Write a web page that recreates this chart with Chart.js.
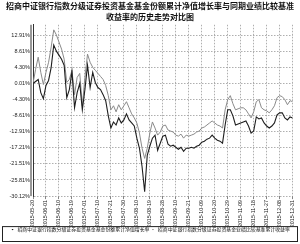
<!DOCTYPE html>
<html>
<head>
<meta charset="utf-8">
<script src="https://cdn.jsdelivr.net/npm/chart.js@4.4.1/dist/chart.umd.min.js"></script>
<style>
  html, body { margin: 0; padding: 0; background: #fff; }
  #wrap { width: 300px; height: 244px; }
</style>
</head>
<body>
<div id="wrap"><canvas id="navChart"></canvas></div>
<script>
// tick labels on the x axis (one every 5 points)
const xTickLabels = [
  "2015-05-20", "2015-06-01", "2015-06-10", "2015-06-19", "2015-07-01",
  "2015-07-10", "2015-07-21", "2015-07-30", "2015-08-10", "2015-08-19",
  "2015-08-28", "2015-09-10", "2015-09-21", "2015-10-09", "2015-10-20",
  "2015-10-29", "2015-11-09", "2015-11-18", "2015-11-27", "2015-12-08",
  "2015-12-31"
];
const yTickValues = [-30.12, -25.81, -21.51, -17.21, -12.91, -8.61, -4.30, 0.01, 4.30, 8.61, 12.91];

// 基金份额累计净值增长率 (%)
const fundReturn = [
  0.00, 0.54, 1.08, -2.44, -4.06, -0.54, 0.81, 4.33, 10.29, 8.66,
  7.58, 6.50, 4.87, -3.79, -1.62, 3.25, -6.50, -2.44, 0.00, -7.04,
  -1.62, 4.87, -1.08, 2.98, 0.27, -1.08, -1.62, -2.98, -4.60, -8.66,
  -11.91, -10.29, -11.10, -9.20, -10.56, -9.75, -8.12, -9.75, -10.56, -11.37,
  -14.62, -17.32, -22.20, -28.96, -19.22, -16.78, -14.62, -13.81, -17.87, -15.97,
  -14.08, -13.81, -16.24, -16.78, -16.51, -17.05, -17.60, -17.05, -18.14, -17.32,
  -17.32, -17.05, -17.32, -16.78, -16.51, -15.70, -15.43, -14.89, -14.62, -13.81,
  -14.62, -15.16, -15.43, -15.97, -11.10, -7.04, -7.04, -8.66, -11.10, -10.83,
  -10.56, -10.29, -10.02, -11.37, -13.26, -12.72, -8.93, -9.47, -9.20, -10.56,
  -11.37, -11.91, -11.37, -10.56, -8.39, -7.85, -7.85, -9.20, -9.75, -8.93,
  -9.20
];

// 业绩比较基准累计收益率 (%)
const benchReturn = [
  0.00, 3.79, 7.04, 2.98, -0.27, 2.98, 5.68, 9.75, 14.35, 12.99,
  11.10, 9.20, 6.50, 0.27, 1.08, 3.52, -2.98, 1.62, 2.71, -5.96,
  1.62, 7.85, 5.68, 4.33, 3.52, 2.71, 1.89, 1.08, -0.54, -3.25,
  -7.04, -5.96, -7.58, -5.68, -7.04, -5.96, -4.87, -6.50, -8.12, -9.20,
  -10.56, -13.26, -17.32, -20.03, -17.32, -13.26, -10.29, -11.91, -13.81, -12.99,
  -11.37, -11.10, -12.45, -12.72, -12.99, -13.81, -14.08, -13.54, -14.62, -13.81,
  -14.08, -13.81, -13.54, -12.99, -12.72, -11.91, -11.64, -11.10, -10.56, -10.02,
  -10.56, -11.10, -11.37, -11.91, -7.04, -4.33, -3.25, -5.41, -7.04, -6.77,
  -6.50, -6.50, -7.04, -8.12, -9.20, -7.58, -4.87, -4.33, -6.50, -7.04,
  -7.31, -7.85, -7.04, -5.96, -3.79, -3.25, -3.52, -4.33, -5.68, -4.60,
  -4.87
];

const seriesNames = [
  "招商中证银行指数分级证券投资基金基金份额累计净值增长率",
  "招商中证银行指数分级证券投资基金业绩比较基准累计收益率"
];

const cjk = '"Noto Sans CJK SC", "Noto Sans", sans-serif';

function toPoints(arr) {
  return arr.map((v, i) => ({ x: i, y: v }));
}

// double line on the left axis and the frame round the legend
const framePlugin = {
  id: "frame",
  afterDraw(chart) {
    const ctx = chart.ctx;
    const area = chart.chartArea;
    ctx.save();
    ctx.strokeStyle = "#333";
    ctx.lineWidth = 1;
    ctx.beginPath();
    ctx.moveTo(area.left - 2, area.top);
    ctx.lineTo(area.left - 2, area.bottom);
    ctx.stroke();
    const lg = chart.legend;
    ctx.strokeStyle = "#222";
    ctx.strokeRect(lg.left + 0.5, lg.top + 0.5, lg.width - 1, lg.height - 1);
    ctx.restore();
  }
};

new Chart(document.getElementById("navChart"), {
  type: "line",
  data: {
    datasets: [
      {
        label: seriesNames[0],
        data: toPoints(fundReturn),
        borderColor: "#1e1e1e",
        borderWidth: 1.1,
        pointRadius: 0,
        tension: 0
      },
      {
        label: seriesNames[1],
        data: toPoints(benchReturn),
        borderColor: "#8a8a8a",
        borderWidth: 1,
        pointRadius: 0,
        tension: 0
      }
    ]
  },
  options: {
    responsive: true,
    maintainAspectRatio: false,
    animation: false,
    layout: { padding: { left: 2, right: 2, top: 0, bottom: 2 } },
    plugins: {
      title: {
        display: true,
        text: ["招商中证银行指数分级证券投资基金基金份额累计净值增长率与同期业绩比较基准", "收益率的历史走势对比图"],
        color: "#111",
        font: { family: cjk, size: 8, weight: "bold", lineHeight: 1.3 },
        padding: { top: 1, bottom: 3 }
      },
      legend: {
        display: true,
        position: "bottom",
        labels: {
          usePointStyle: true,
          pointStyle: "line",
          boxWidth: 6,
          boxHeight: 1,
          padding: 1,
          color: "#111",
          font: { family: cjk, size: 4.9 }
        }
      },
      tooltip: { enabled: false }
    },
    scales: {
      x: {
        type: "linear",
        min: 0,
        max: 100,
        afterBuildTicks: (axis) => {
          axis.ticks = xTickLabels.map((_, i) => ({ value: i * 5 }));
        },
        afterFit: (axis) => { axis.height = 30; },
        ticks: {
          autoSkip: false,
          maxRotation: 90,
          minRotation: 90,
          padding: 1,
          color: "#222",
          font: { family: "Liberation Sans", size: 5.3 },
          callback: (value) => xTickLabels[Math.round(value / 5)]
        },
        grid: { color: "#9a9a9a", lineWidth: 0.8, tickLength: 3, tickColor: "#666" },
        border: { display: false, dash: [1.5, 1.5] }
      },
      y: {
        min: -30.12,
        max: 15.7,
        afterBuildTicks: (axis) => {
          axis.ticks = yTickValues.map((v) => ({ value: v }));
        },
        afterFit: (axis) => { axis.width = 31; },
        ticks: {
          padding: 3,
          color: "#222",
          font: { family: "Liberation Sans", size: 5.5 },
          callback: (value) => value.toFixed(2) + "%"
        },
        grid: { color: "#9a9a9a", lineWidth: 0.8, drawTicks: false },
        border: { display: true, color: "#333", width: 1, dash: [1.5, 1.5] }
      }
    }
  },
  plugins: [framePlugin]
});
</script>
</body>
</html>
